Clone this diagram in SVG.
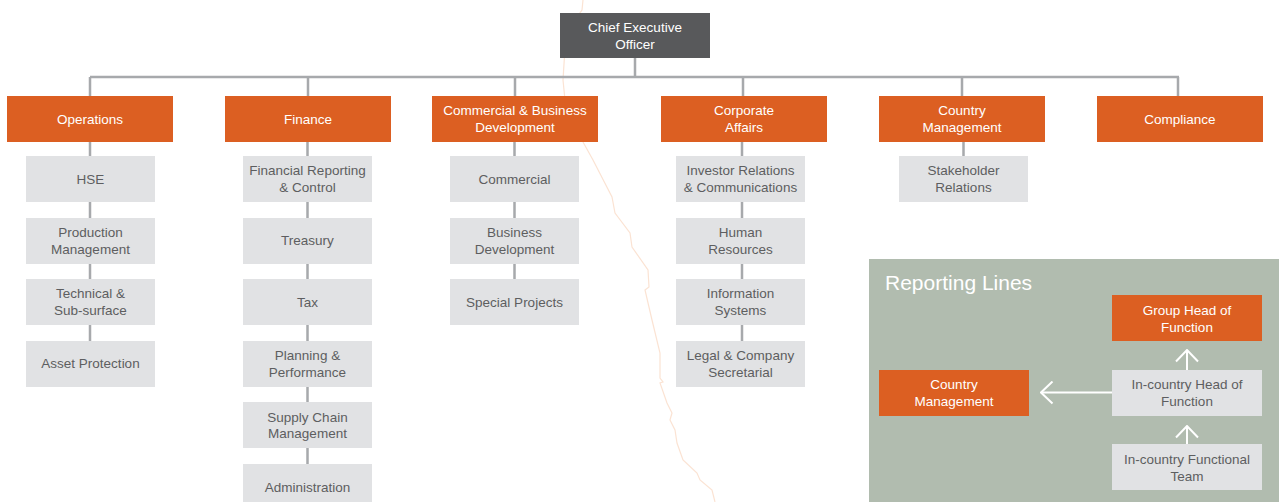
<svg xmlns="http://www.w3.org/2000/svg" width="1279" height="502" viewBox="0 0 1279 502">
  <style>
    text { font-family: "Liberation Sans", Arial, sans-serif; font-size: 13.5px; text-anchor: middle; }
    .exec { fill: #58595b; }
    .dept { fill: #dc5f22; }
    .unit { fill: #e1e2e4; }
    .light { fill: #ffffff; }
    .dark { fill: #5d5e60; }
    .link { stroke: #a7a9ac; stroke-width: 2.5; fill: none; }
    .report { stroke: #ffffff; stroke-width: 2; fill: none; }
  </style>
  <defs>
    <marker id="chevron" viewBox="0 0 14 24" refX="12.5" refY="12" markerWidth="14" markerHeight="24" markerUnits="userSpaceOnUse" orient="auto">
      <path d="M1,1 L12.5,12 L1,23" fill="none" stroke="#ffffff" stroke-width="2"/>
    </marker>
  </defs>

  <rect width="1279" height="502" fill="#ffffff"/>

  <!-- faint boundary line in the background -->
  <path d="M583,0 L582,10 L566,32 L563,80 L565,100 L583,142 L593,160 L612,197 L615,213 L630,233 L632,247 L648,270 L649,287 L645,290 L652,320 L660,353 L660,378 L663,382 L660,383 L667,403 L672,413 L670,420 L675,430 L677,443 L683,460 L697,473 L700,480 L712,490 L715,502" fill="none" stroke="#fbe3d3" stroke-width="1.2"/>

  <!-- connectors -->
  <g id="connectors">
    <path class="link" d="M635,58 V77 M90,77 H1179 M90,77 V96 M308,77 V96 M515,77 V96 M743,77 V96 M962,77 V96 M1178,77 V96"/>
    <path class="link" d="M90,142 V341 M307.5,142 V464 M514.5,142 V279 M742,142 V341 M963.5,142 V156"/>
  </g>

  <!-- chief executive -->
  <g id="ceo">
    <rect class="exec" x="560" y="13" width="150" height="45"/>
    <text class="light" x="635" y="32">Chief Executive</text>
    <text class="light" x="635" y="49">Officer</text>
  </g>

  <!-- departments -->
  <g id="operations">
    <rect class="dept" x="7" y="96" width="166" height="46"/>
    <text class="light" x="90" y="124">Operations</text>
  </g>
  <g id="finance">
    <rect class="dept" x="225" y="96" width="166" height="46"/>
    <text class="light" x="308" y="124">Finance</text>
  </g>
  <g id="commercial-business-development">
    <rect class="dept" x="432" y="96" width="166" height="46"/>
    <text class="light" x="515" y="115">Commercial &amp; Business</text>
    <text class="light" x="515" y="132">Development</text>
  </g>
  <g id="corporate-affairs">
    <rect class="dept" x="661" y="96" width="166" height="46"/>
    <text class="light" x="744" y="115">Corporate</text>
    <text class="light" x="744" y="132">Affairs</text>
  </g>
  <g id="country-management">
    <rect class="dept" x="879" y="96" width="166" height="46"/>
    <text class="light" x="962" y="115">Country</text>
    <text class="light" x="962" y="132">Management</text>
  </g>
  <g id="compliance">
    <rect class="dept" x="1097" y="96" width="166" height="46"/>
    <text class="light" x="1180" y="124">Compliance</text>
  </g>

  <!-- operations units -->
  <g id="hse">
    <rect class="unit" x="26" y="156" width="129" height="46"/>
    <text class="dark" x="90.5" y="184">HSE</text>
  </g>
  <g id="production-management">
    <rect class="unit" x="26" y="218" width="129" height="46"/>
    <text class="dark" x="90.5" y="237">Production</text>
    <text class="dark" x="90.5" y="254">Management</text>
  </g>
  <g id="technical-sub-surface">
    <rect class="unit" x="26" y="279" width="129" height="46"/>
    <text class="dark" x="90.5" y="298">Technical &amp;</text>
    <text class="dark" x="90.5" y="315">Sub-surface</text>
  </g>
  <g id="asset-protection">
    <rect class="unit" x="26" y="341" width="129" height="46"/>
    <text class="dark" x="90.5" y="368">Asset Protection</text>
  </g>

  <!-- finance units -->
  <g id="financial-reporting">
    <rect class="unit" x="243" y="156" width="129" height="46"/>
    <text class="dark" x="307.5" y="175">Financial Reporting</text>
    <text class="dark" x="307.5" y="192">&amp; Control</text>
  </g>
  <g id="treasury">
    <rect class="unit" x="243" y="218" width="129" height="46"/>
    <text class="dark" x="307.5" y="245">Treasury</text>
  </g>
  <g id="tax">
    <rect class="unit" x="243" y="279" width="129" height="46"/>
    <text class="dark" x="307.5" y="307">Tax</text>
  </g>
  <g id="planning-performance">
    <rect class="unit" x="243" y="341" width="129" height="46"/>
    <text class="dark" x="307.5" y="360">Planning &amp;</text>
    <text class="dark" x="307.5" y="377">Performance</text>
  </g>
  <g id="supply-chain">
    <rect class="unit" x="243" y="402" width="129" height="46"/>
    <text class="dark" x="307.5" y="422">Supply Chain</text>
    <text class="dark" x="307.5" y="438">Management</text>
  </g>
  <g id="administration">
    <rect class="unit" x="243" y="464" width="129" height="46"/>
    <text class="dark" x="307.5" y="492">Administration</text>
  </g>

  <!-- commercial units -->
  <g id="commercial">
    <rect class="unit" x="450" y="156" width="129" height="46"/>
    <text class="dark" x="514.5" y="184">Commercial</text>
  </g>
  <g id="business-development">
    <rect class="unit" x="450" y="218" width="129" height="46"/>
    <text class="dark" x="514.5" y="237">Business</text>
    <text class="dark" x="514.5" y="254">Development</text>
  </g>
  <g id="special-projects">
    <rect class="unit" x="450" y="279" width="129" height="46"/>
    <text class="dark" x="514.5" y="307">Special Projects</text>
  </g>

  <!-- corporate affairs units -->
  <g id="investor-relations">
    <rect class="unit" x="676" y="156" width="129" height="46"/>
    <text class="dark" x="740.5" y="175">Investor Relations</text>
    <text class="dark" x="740.5" y="192">&amp; Communications</text>
  </g>
  <g id="human-resources">
    <rect class="unit" x="676" y="218" width="129" height="46"/>
    <text class="dark" x="740.5" y="237">Human</text>
    <text class="dark" x="740.5" y="254">Resources</text>
  </g>
  <g id="information-systems">
    <rect class="unit" x="676" y="279" width="129" height="46"/>
    <text class="dark" x="740.5" y="298">Information</text>
    <text class="dark" x="740.5" y="315">Systems</text>
  </g>
  <g id="legal-company-secretarial">
    <rect class="unit" x="676" y="341" width="129" height="46"/>
    <text class="dark" x="740.5" y="360">Legal &amp; Company</text>
    <text class="dark" x="740.5" y="377">Secretarial</text>
  </g>

  <!-- country management unit -->
  <g id="stakeholder-relations">
    <rect class="unit" x="899" y="156" width="129" height="46"/>
    <text class="dark" x="963.5" y="175">Stakeholder</text>
    <text class="dark" x="963.5" y="192">Relations</text>
  </g>

  <!-- reporting lines legend -->
  <g id="reporting-lines">
    <rect x="869" y="259" width="410" height="243" fill="#b1bcaf"/>
    <text x="885" y="290" fill="#ffffff" style="font-size:21px; text-anchor:start;">Reporting Lines</text>
    <g id="rl-arrows">
      <line class="report" x1="1112" y1="392.5" x2="1041" y2="392.5" marker-end="url(#chevron)"/>
      <line class="report" x1="1187" y1="370" x2="1187" y2="350" marker-end="url(#chevron)"/>
      <line class="report" x1="1187" y1="444" x2="1187" y2="426" marker-end="url(#chevron)"/>
    </g>
    <g id="rl-group-head">
      <rect class="dept" x="1112" y="295" width="150" height="46"/>
      <text class="light" x="1187" y="315">Group Head of</text>
      <text class="light" x="1187" y="332">Function</text>
    </g>
    <g id="rl-country-management">
      <rect class="dept" x="879" y="370" width="150" height="46"/>
      <text class="light" x="954" y="389">Country</text>
      <text class="light" x="954" y="406">Management</text>
    </g>
    <g id="rl-in-country-head">
      <rect class="unit" x="1112" y="370" width="150" height="46"/>
      <text class="dark" x="1187" y="389">In-country Head of</text>
      <text class="dark" x="1187" y="406">Function</text>
    </g>
    <g id="rl-in-country-team">
      <rect class="unit" x="1112" y="444" width="150" height="46"/>
      <text class="dark" x="1187" y="464">In-country Functional</text>
      <text class="dark" x="1187" y="481">Team</text>
    </g>
  </g>
</svg>
